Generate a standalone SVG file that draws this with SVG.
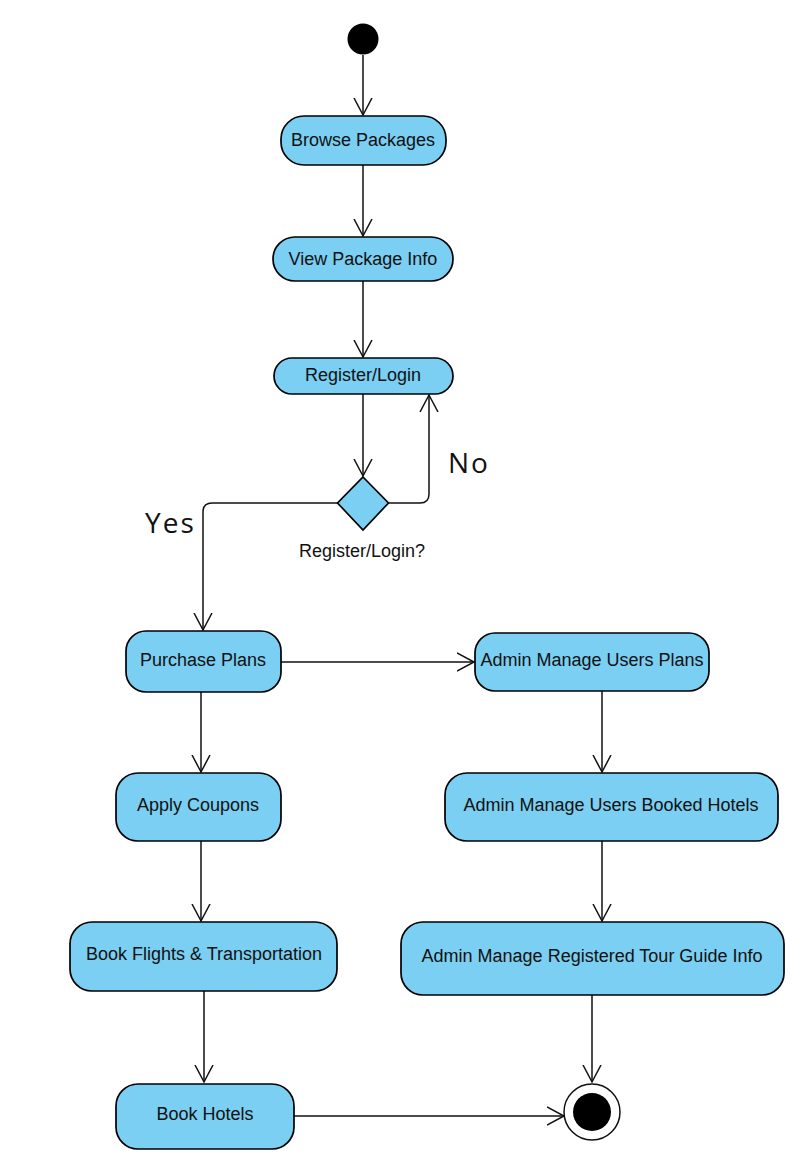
<svg xmlns="http://www.w3.org/2000/svg" width="812" height="1166" viewBox="0 0 812 1166">
<style>
.node rect, .node path.shape { fill: #7ACFF2; stroke: #000; stroke-width: 1.7; }
.lbl { font-family: "Liberation Sans", Arial, sans-serif; font-size: 18px; fill: #111; text-anchor: middle; }
.big { font-family: "Open Sans", "DejaVu Sans", sans-serif; font-size: 28px; fill: #111; letter-spacing: 2px; }
.edge { fill: none; stroke: #111; stroke-width: 1.5; }
</style>
<defs>
<marker id="arr" viewBox="0 0 20 20" refX="17" refY="10" markerWidth="20" markerHeight="20" markerUnits="userSpaceOnUse" orient="auto">
<path d="M0,1 L17,10 L0,19" fill="none" stroke="#111" stroke-width="1.5"/>
</marker>
</defs>
<rect width="812" height="1166" fill="#fff"/>
<g id="connectors">
<path class="edge" d="M363,55 L363,115" marker-end="url(#arr)"/>
<path class="edge" d="M363,165 L363,236" marker-end="url(#arr)"/>
<path class="edge" d="M363,281 L363,357" marker-end="url(#arr)"/>
<path class="edge" d="M363,394 L363,476" marker-end="url(#arr)"/>
<path class="edge" d="M388,503 L420,503 Q429,503 429,494 L429,395" marker-end="url(#arr)"/>
<path class="edge" d="M338,503 L212,503 Q203,503 203,512 L203,630" marker-end="url(#arr)"/>
<path class="edge" d="M281,662 L474,662" marker-end="url(#arr)"/>
<path class="edge" d="M201,692 L201,772" marker-end="url(#arr)"/>
<path class="edge" d="M201,841 L201,921" marker-end="url(#arr)"/>
<path class="edge" d="M204,991 L204,1082" marker-end="url(#arr)"/>
<path class="edge" d="M602,691 L602,772" marker-end="url(#arr)"/>
<path class="edge" d="M602,841 L602,921" marker-end="url(#arr)"/>
<path class="edge" d="M592,995 L592,1082" marker-end="url(#arr)"/>
<path class="edge" d="M294,1116 L564,1116" marker-end="url(#arr)"/>
<text class="big" x="448" y="473">No</text>
<text class="big" x="145" y="533">Yes</text>
</g>
<g id="start"><circle cx="363" cy="39" r="15.5" fill="#000"/></g>
<g id="browse" class="node"><rect x="281" y="116" width="165" height="49" rx="23"/><text class="lbl" x="363" y="146">Browse Packages</text></g>
<g id="view" class="node"><rect x="273" y="237" width="180" height="44" rx="22"/><text class="lbl" x="363" y="265">View Package Info</text></g>
<g id="register" class="node"><rect x="274" y="358" width="179" height="36" rx="18"/><text class="lbl" x="363" y="381">Register/Login</text></g>
<g id="decision" class="node"><path class="shape" d="M363,477 L388.5,503 L363,530 L337.5,503 Z"/><text class="lbl" x="362" y="557">Register/Login?</text></g>
<g id="purchase" class="node"><rect x="126" y="631" width="155" height="61" rx="20"/><text class="lbl" x="203" y="666">Purchase Plans</text></g>
<g id="adminPlans" class="node"><rect x="475" y="633" width="234" height="58" rx="20"/><text class="lbl" x="592" y="666">Admin Manage Users Plans</text></g>
<g id="coupons" class="node"><rect x="116" y="773" width="165" height="68" rx="22"/><text class="lbl" x="198" y="811">Apply Coupons</text></g>
<g id="adminHotels" class="node"><rect x="445" y="773" width="333" height="68" rx="22"/><text class="lbl" x="611" y="811">Admin Manage Users Booked Hotels</text></g>
<g id="flights" class="node"><rect x="70" y="922" width="267" height="69" rx="22"/><text class="lbl" x="204" y="960">Book Flights &amp; Transportation</text></g>
<g id="adminGuide" class="node"><rect x="401" y="922" width="383" height="73" rx="22"/><text class="lbl" x="592" y="962">Admin Manage Registered Tour Guide Info</text></g>
<g id="hotels" class="node"><rect x="116" y="1084" width="178" height="65" rx="22"/><text class="lbl" x="205" y="1120">Book Hotels</text></g>
<g id="end"><circle cx="592" cy="1112" r="28" fill="#fff" stroke="#111" stroke-width="1.5"/><circle cx="592" cy="1112" r="19" fill="#000"/></g>
</svg>
